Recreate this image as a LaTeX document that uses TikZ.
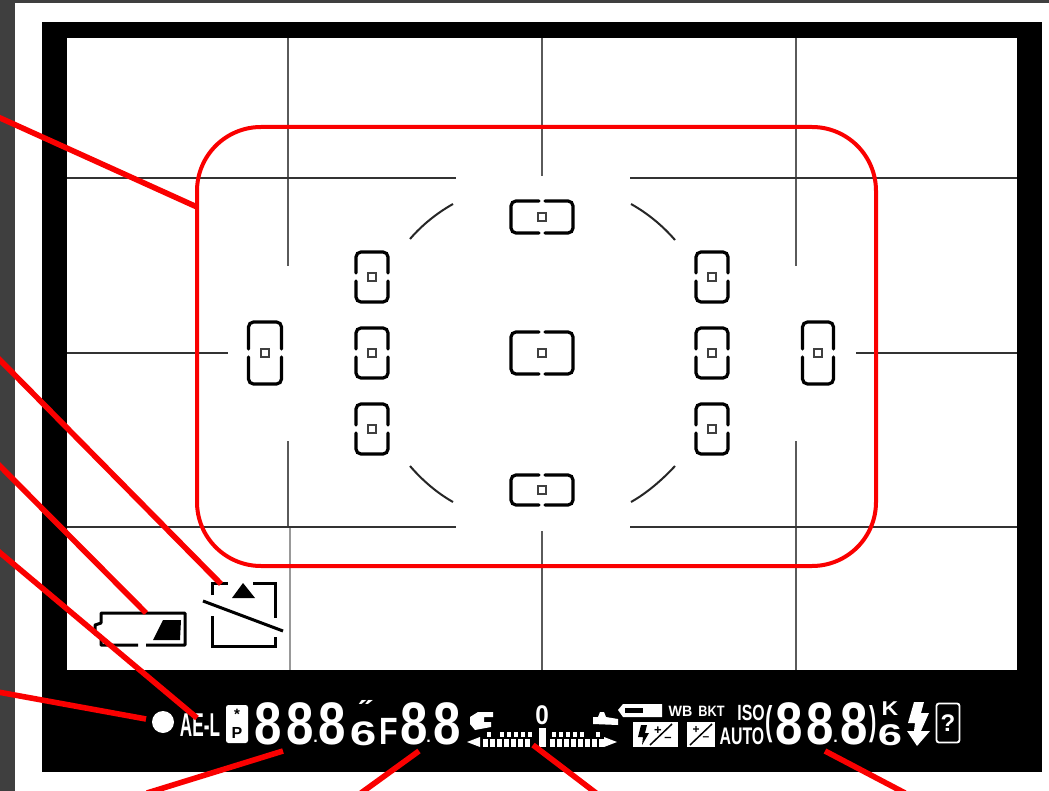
\documentclass[tikz,border=0pt]{standalone}
\usepackage{fontspec}
\setmainfont{Liberation Sans}
\newfontfamily\symfont{DejaVu Sans}
\definecolor{redl}{RGB}{250,0,0}
\definecolor{gridc}{RGB}{90,90,90}
\definecolor{bgdark}{RGB}{63,63,63}
\tikzset{
  redline/.style={redl,line width=5.6pt},
  gridv/.style={gridc,line width=2.2pt},
  gridh/.style={black!80,line width=2pt},
  arcl/.style={black!85,line width=2pt},
  afl/.style={black,line width=3.2pt,rounded corners=5pt,line cap=round},
  afc/.style={draw=black!75,line width=2pt,fill=white,minimum size=8pt,inner sep=0pt,rectangle},
  lcd/.style={white,inner sep=0pt,font=\fontsize{60}{60}\selectfont\bfseries,transform shape,xscale=.82,yscale=1},
  lbl/.style={white,inner sep=0pt,font=\fontsize{#1}{#1}\selectfont\bfseries},
  lbl/.default=14,
  icn/.style={black,line width=3pt}
}
\newcommand{\afwide}[4]{% cx cy halfw halfh
  \draw[afl] ({#1-3},{#2-#4}) -- ({#1-#3},{#2-#4}) -- ({#1-#3},{#2+#4}) -- ({#1-3},{#2+#4});
  \draw[afl] ({#1+3},{#2-#4}) -- ({#1+#3},{#2-#4}) -- ({#1+#3},{#2+#4}) -- ({#1+3},{#2+#4});
  \node[afc] (afw#1x#2) at (#1,#2) {};
}
\newcommand{\aftall}[4]{%
  \draw[afl] ({#1-#3},{#2-4}) -- ({#1-#3},{#2-#4}) -- ({#1+#3},{#2-#4}) -- ({#1+#3},{#2-4});
  \draw[afl] ({#1-#3},{#2+4}) -- ({#1-#3},{#2+#4}) -- ({#1+#3},{#2+#4}) -- ({#1+#3},{#2+4});
  \node[afc] (aft#1x#2) at (#1,#2) {};
}
\begin{document}
\begin{tikzpicture}[x=1pt,y=-1pt]
\useasboundingbox (0,0) rectangle (1049,791);
% page
\fill[bgdark] (0,0) rectangle (1049,791);
\fill[white] (15,3) rectangle (1049,791);
% frame
\fill[black] (42,22) rectangle (1042,772);
\fill[white] (67,38) rectangle (1017,670);
% grid
\draw[gridv] (288,38) -- (288,266);
\draw[gridv] (288,441) -- (288,527);
\draw[gridv,black!40,line width=1.5pt] (290,527) -- (290,670);
\draw[gridv] (542,38) -- (542,176);
\draw[gridv] (542,531) -- (542,670);
\draw[gridv] (796,38) -- (796,266);
\draw[gridv] (796,441) -- (796,670);
\draw[gridh] (67,178) -- (456,178);
\draw[gridh] (630,178) -- (1017,178);
\draw[gridh] (67,353) -- (228,353);
\draw[gridh] (856,353) -- (1017,353);
\draw[gridh] (67,527) -- (456,527);
\draw[gridh] (630,527) -- (1017,527);
% arcs
\draw[arcl] (410,239) .. controls (422,225) and (437,213) .. (453,204);
\draw[arcl] (631,204) .. controls (647,213) and (662,225) .. (675,240);
\draw[arcl] (410,466) .. controls (422,480) and (437,493) .. (453,502);
\draw[arcl] (631,502) .. controls (647,493) and (662,480) .. (675,466);
% focus brackets
\afwide{542}{217}{31}{16}
\afwide{542}{353}{31}{21}
\afwide{542}{490}{31}{15}
\aftall{372}{277}{16}{25}
\aftall{372}{353}{16}{25}
\aftall{372}{429}{16}{25}
\aftall{712}{277}{16}{25}
\aftall{712}{353}{16}{25}
\aftall{712}{429}{16}{25}
\aftall{265}{353}{16.5}{31}
\aftall{818}{353}{15.5}{31}
% battery
\draw[icn,line join=round] (138,645) -- (101,645) -- (101,636) -- (95,634) -- (95,625) -- (101,623) -- (101,613) -- (185,613) -- (185,645) -- (146,645);
\fill[black] (163,620) -- (181,620) -- (180,640) -- (153,640) -- cycle;
% exposure-lock icon
\draw[icn] (212,595) -- (212,583) -- (228,583);
\draw[icn] (253,583) -- (275,583) -- (275,618);
\draw[icn] (212,616) -- (212,646) -- (275,646) -- (275,637);
\fill[black] (243,583) -- (255,598) -- (232,598) -- cycle;
\draw[black,line width=3pt] (203,601) -- (283,631);
% red outline
\draw[redl,line width=4pt,rounded corners=64pt] (197,127) rectangle (876,566);
% ---- display row
\fill[white] (163,722) circle (11);
\node[lbl=33,transform shape,xscale=.52] (ael) at (200,725) {AE-L};
\fill[white,rounded corners=2.5pt] (226,705) rectangle (248,743);
\node[inner sep=0pt,black,font=\fontsize{15}{15}\selectfont\bfseries] (st) at (237,714) {*};
\node[inner sep=0pt,black,font=\fontsize{16}{16}\selectfont\bfseries] (pp) at (237,733) {P};
\node[lcd] (d1) at (268,724) {8};
\node[lcd] (d2) at (300,724) {8};
\node[lbl=16] (dt1) at (315.5,741) {.};
\node[lcd] (d3) at (332,724) {8};
\node[lbl=34,transform shape,xscale=1.4] (d4) at (363,734) {6};
\node[white,inner sep=0pt,font=\symfont\fontsize{22}{22}\selectfont\bfseries,transform shape,xscale=1.6] (dm) at (366,708) {″};
\node[lbl=38,transform shape,xscale=.8] (ff) at (389,731) {F};
\node[lcd] (d5) at (414,724) {8};
\node[lbl=16] (dt2) at (428.5,741) {.};
\node[lcd] (d6) at (447,724) {8};
% exposure scale
\node[lbl=27,transform shape,xscale=.9] (zero) at (542,715) {0};
\fill[white] (470,717) -- (478,712) -- (493,712) -- (493,717) -- (484,717) -- (484,722) -- (491,722) -- (491,727) -- (475,730) -- (470,724) -- cycle;
\fill[white] (618,725) -- (618,719) -- (606,717) -- (604,712) -- (600,712) -- (598,717) -- (593,717) -- (593,724) -- cycle;
\fill[white] (467,742) -- (480,737) -- (480,747) -- cycle;
\fill[white] (617,742) -- (604,737) -- (604,747) -- cycle;
\foreach \tx in {483,490,497,504,511,518,525,550,557,564,571,578,585,592,599}{
  \fill[white] (\tx,739) rectangle ++(5,8);
}
\foreach \tx in {487,500,507,514,521,528,552,559,566,573,580,596}{
  \fill[white] (\tx,731.5) rectangle ++(3.5,5);
}
\fill[white] (539,728) rectangle (546,747);
% small icons
\fill[white] (618,710) -- (623,704) -- (662,704) -- (662,717) -- (623,717) -- cycle;
\fill[black] (625,708) rectangle (643,713);
\node[lbl=15,transform shape,xscale=.95] (wb) at (680.5,711) {WB};
\node[lbl=15,transform shape,xscale=.85] (bkt) at (711.5,711) {BKT};
\fill[white] (633,722) rectangle (678,747);
\fill[black] (641,725) -- (647,725) -- (645,733) -- (649,733) -- (642,745) -- (643,737) -- (638,737) -- cycle;
\draw[black,line width=1.5pt] (672,724) -- (650,745);
\node[black,inner sep=0pt,font=\fontsize{13}{13}\selectfont\bfseries] (p1) at (658,731) {+};
\node[black,inner sep=0pt,font=\fontsize{13}{13}\selectfont\bfseries] (m1) at (668,739) {–};
\fill[white] (687,722) rectangle (715,747);
\draw[black,line width=1.5pt] (712,724) -- (690,745);
\node[black,inner sep=0pt,font=\fontsize{12}{12}\selectfont\bfseries] (p2) at (696,730) {+};
\node[black,inner sep=0pt,font=\fontsize{12}{12}\selectfont\bfseries] (m2) at (706,739) {–};
\node[lbl=22,transform shape,xscale=.72] (iso) at (751,712.5) {ISO};
\node[lbl=24,transform shape,xscale=.66] (auto) at (742,736) {AUTO};
\node[lbl=40,transform shape,xscale=.55] (lp) at (769,724) {(};
\node[lcd] (d7) at (789,724) {8};
\node[lcd] (d8) at (820,724) {8};
\node[lbl=16] (dt3) at (835.5,741) {.};
\node[lcd] (d9) at (854,724) {8};
\node[lbl=40,transform shape,xscale=.55] (rp) at (873,724) {)};
\node[lbl=20,transform shape,xscale=1.15] (kk) at (890,709) {K};
\node[lbl=30,transform shape,xscale=1.45] (d10) at (890,735) {6};
\fill[white] (914,702) -- (924,702) -- (921,713) -- (929,713) -- (921,731) -- (930,731) -- (917,746) -- (907,731) -- (914,731) -- (915,723) -- (908,723) -- cycle;
\node[draw=white,rounded corners=2.5pt,line width=1.8pt,white,minimum width=23pt,minimum height=39pt,inner sep=0pt,font=\fontsize{24}{24}\selectfont\bfseries] (qq) at (948,723) {?};
% red connectors
\coordinate (a1) at (-2,117); \coordinate (b1) at (197,207);
\coordinate (a2) at (-2,358); \coordinate (b2) at (221,584);
\coordinate (a3) at (-2,464); \coordinate (b3) at (146,613);
\coordinate (a4) at (-2,551); \coordinate (b4) at (197,718);
\coordinate (a5) at (-2,692); \coordinate (b5) at (146,719);
\coordinate (a6) at (147,793); \coordinate (b6) at (283,751);
\coordinate (a7) at (361,793); \coordinate (b7) at (419,751);
\coordinate (a8) at (596,793); \coordinate (b8) at (533,745);
\coordinate (a9) at (905,793); \coordinate (b9) at (825,751);
\foreach \k in {1,...,9}{\draw[redline] (a\k) -- (b\k);}
\end{tikzpicture}
\end{document}
